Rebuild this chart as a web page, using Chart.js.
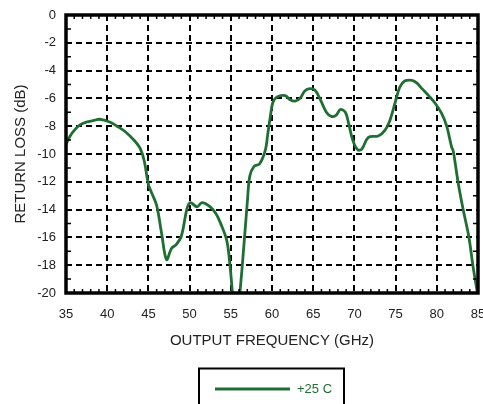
<!DOCTYPE html>
<html>
<head>
<meta charset="utf-8">
<script src="https://cdn.jsdelivr.net/npm/chart.js@4.4.0/dist/chart.umd.min.js"></script>
<style>
  body { margin: 0; background: #fff; }
  #wrap { width: 483px; height: 404px; }
</style>
</head>
<body>
<div id="wrap"><canvas id="c" width="483" height="404"></canvas></div>
<script>
    // Return loss vs output frequency
    var freqGHz = [35.0, 35.5, 36.0, 36.7, 37.5, 38.3, 39.1, 40.3, 41.2, 42.2, 43.4, 44.0, 44.5, 45.0, 45.4,
        46.0, 46.6, 47.2, 47.8, 48.4, 49.0, 49.7, 50.1, 50.9, 51.5, 52.5, 53.2, 53.7, 54.5, 54.9,
        55.2, 55.6, 56.1, 56.6, 57.0, 57.3, 57.8, 58.5, 59.2, 59.5, 59.8, 60.1, 60.6, 61.6, 62.2,
        62.8, 63.4, 64.0, 64.6, 65.2, 65.8, 66.6, 67.2, 67.8, 68.3, 68.9, 69.3, 69.8, 70.4, 70.9,
        71.7, 72.9, 73.7, 74.3, 74.9, 75.5, 76.1, 77.0, 77.6, 78.2, 79.0, 79.8, 80.6, 81.2, 81.8,
        82.0, 82.6, 83.2, 83.9, 84.4, 84.9, 85.0];
    var returnLoss = [-9.3, -8.7, -8.3, -7.9, -7.7, -7.6, -7.5, -7.7, -8.0, -8.4, -9.1, -9.6, -10.5, -12.2, -12.8,
        -13.7, -15.7, -17.6, -16.8, -16.5, -15.9, -13.9, -13.5, -13.8, -13.5, -13.8, -14.3, -14.9, -16.2, -18.0,
        -20.0, -22.5, -20.0, -16.5, -13.5, -11.6, -10.9, -10.7, -9.7, -8.5, -7.3, -6.3, -5.9, -5.8, -6.1,
        -6.2, -6.0, -5.45, -5.3, -5.4, -6.0, -7.0, -7.3, -7.2, -6.8, -7.0, -7.8, -9.0, -9.7, -9.65,
        -8.8, -8.7, -8.3, -7.6, -6.4, -5.2, -4.75, -4.7, -4.9, -5.3, -5.8, -6.35, -7.1, -8.0, -9.5,
        -9.8, -12.1, -14.0, -16.0, -18.1, -19.9, -20.3];

    var xTicks = [35, 40, 45, 50, 55, 60, 65, 70, 75, 80, 85];
    var yTicks = [0, -2, -4, -6, -8, -10, -12, -14, -16, -18, -20];
    var seriesName = '+25 C';
    var lineColor = '#1f6f32';
    var fontFam = '"Liberation Sans", Arial, Helvetica, sans-serif';

    var points = [];
    for (var i = 0; i < freqGHz.length; i++) {
        points.push({x: freqGHz[i], y: returnLoss[i]});
    }

    // frame, minor ticks and the boxed legend
    var framePlugin = {
        id: 'frame',
        afterDraw: function(chart) {
            var ctx = chart.ctx;
            var a = chart.chartArea;
            var xs = chart.scales.x, ys = chart.scales.y;
            ctx.save();
            ctx.strokeStyle = '#000';
            ctx.lineWidth = 1.5;
            ctx.beginPath();
            for (var f = 36; f < 85; f++) {
                if (f % 5 == 0) continue;
                var px = xs.getPixelForValue(f);
                ctx.moveTo(px, a.bottom); ctx.lineTo(px, a.bottom - 4);
                ctx.moveTo(px, a.top); ctx.lineTo(px, a.top + 4);
            }
            for (var d = -19; d < 0; d += 2) {
                var py = ys.getPixelForValue(d);
                ctx.moveTo(a.left, py); ctx.lineTo(a.left + 5, py);
                ctx.moveTo(a.right, py); ctx.lineTo(a.right - 5, py);
            }
            ctx.stroke();

            ctx.lineWidth = 3.5;
            ctx.strokeRect(a.left, a.top, a.right - a.left, a.bottom - a.top);

            // legend
            ctx.lineWidth = 2;
            ctx.strokeRect(199, 368.5, 145, 60);
            ctx.strokeStyle = lineColor;
            ctx.lineWidth = 3;
            ctx.beginPath();
            ctx.moveTo(215, 389); ctx.lineTo(290, 389);
            ctx.stroke();
            ctx.fillStyle = lineColor;
            ctx.font = '13px ' + fontFam;
            ctx.textBaseline = 'middle';
            ctx.fillText(seriesName, 297, 389);
            ctx.restore();
        }
    };

    var ctx1 = document.getElementById('c').getContext('2d');
    var chart1 = new Chart(ctx1, {
        type: 'line',
        data: {
            datasets: [{
                label: seriesName,
                data: points,
                borderColor: lineColor,
                backgroundColor: lineColor,
                borderWidth: 2.8,
                pointRadius: 0,
                tension: 0.35,
                clip: 0
            }]
        },
        options: {
            responsive: false,
            animation: false,
            layout: {
                padding: { top: 15, right: 5, left: 0, bottom: 50 }
            },
            plugins: {
                legend: { display: false },
                tooltip: { enabled: false }
            },
            scales: {
                x: {
                    type: 'linear',
                    min: 35,
                    max: 85,
                    afterBuildTicks: function(s) {
                        s.ticks = xTicks.map(function(v) { return {value: v}; });
                    },
                    afterFit: function(s) {
                        s.height = 61;
                        s.paddingLeft = 0;
                        s.paddingRight = 0;
                    },
                    grid: {
                        color: '#000',
                        lineWidth: 2,
                        drawTicks: false
                    },
                    border: { display: false, dash: [6, 4] },
                    ticks: {
                        padding: 14,
                        color: '#222',
                        maxRotation: 0,
                        font: { size: 13, family: fontFam }
                    },
                    title: {
                        display: true,
                        text: 'OUTPUT FREQUENCY (GHz)',
                        color: '#222',
                        padding: { top: 0, bottom: 4 },
                        font: { size: 15, family: fontFam }
                    }
                },
                y: {
                    min: -20,
                    max: 0,
                    afterBuildTicks: function(s) {
                        s.ticks = yTicks.map(function(v) { return {value: v}; });
                    },
                    afterFit: function(s) {
                        s.width = 66;
                        s.paddingTop = 0;
                        s.paddingBottom = 0;
                    },
                    grid: {
                        color: '#000',
                        lineWidth: 2,
                        drawTicks: false
                    },
                    border: { display: false, dash: [6, 4] },
                    ticks: {
                        padding: 10,
                        color: '#222',
                        font: { size: 13, family: fontFam }
                    },
                    title: {
                        display: true,
                        text: 'RETURN LOSS (dB)',
                        color: '#222',
                        padding: { top: 12, bottom: 0 },
                        font: { size: 15, family: fontFam }
                    }
                }
            }
        },
        plugins: [framePlugin]
    });
</script>
</body>
</html>
